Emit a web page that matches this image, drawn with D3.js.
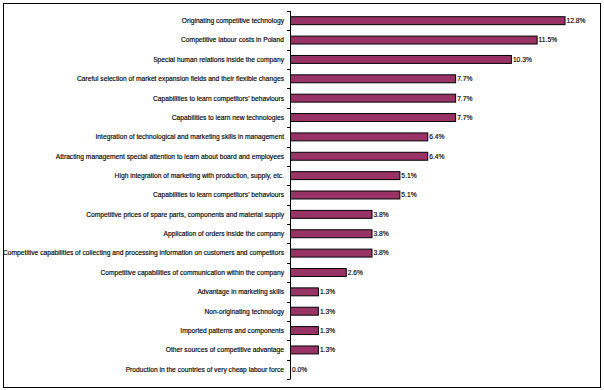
<!DOCTYPE html>
<html><head><meta charset="utf-8">
<script src="https://d3js.org/d3.v7.min.js"></script>
<style>body{margin:0;background:#fff}svg{display:block}</style>
</head><body>
<script>
const categories = [
  "Originating competitive technology",
  "Competitive labour costs in Poland",
  "Special human relations inside the company",
  "Careful selection of market expansion fields and their flexible changes",
  "Capabilities to learn competitors' behaviours",
  "Capabilities to learn new technologies",
  "Integration of technological and marketing skills in management",
  "Attracting management special attention to learn about board and employees",
  "High integration of marketing with production, supply, etc.",
  "Capabilities to learn competitors' behaviours ",
  "Competitive prices of spare parts, components and material supply",
  "Application of orders inside the company",
  "Competitive capabilities of collecting and processing information on customers and competitors",
  "Competitive capabilities of communication within the company",
  "Advantage in marketing skills",
  "Non-originating technology",
  "Imported patterns and components",
  "Other sources of competitive advantage",
  "Production in the countries of very cheap labour force"
];
const values = [12.8, 11.5, 10.3, 7.7, 7.7, 7.7, 6.4, 6.4, 5.1, 5.1, 3.8, 3.8, 3.8, 2.6, 1.3, 1.3, 1.3, 1.3, 0.0];

const W = 604, H = 390;
const svg = d3.select("body").append("svg").attr("width", W).attr("height", H);
svg.append("rect").attr("x", 3.5).attr("y", 3.5).attr("width", 597).attr("height", 384)
  .attr("fill", "#fff").attr("stroke", "#000").attr("stroke-width", 1);

const x0 = 290, y0 = 11, y1 = 379;
const x = d3.scaleLinear().domain([0, 12.8]).range([x0, 564.5]);
const y = d3.scaleBand().domain(d3.range(categories.length)).range([y0, y1]).paddingInner(0.59).paddingOuter(0.295);

const g = svg.append("g");
g.append("line").attr("x1", x0 + 0.5).attr("x2", x0 + 0.5).attr("y1", y0).attr("y2", y1)
  .attr("stroke", "#000").attr("stroke-width", 1);
const step = (y1 - y0) / categories.length;
d3.range(categories.length + 1).forEach(i => {
  const yy = Math.round(y0 + i * step) + 0.5;
  g.append("line").attr("x1", x0 - 3).attr("x2", x0 + 0.5).attr("y1", yy).attr("y2", yy)
    .attr("stroke", "#000").attr("stroke-width", 1);
});

svg.selectAll("rect.bar").data(values).enter().append("rect").attr("class", "bar")
  .attr("x", x0 + 0.5)
  .attr("y", (d, i) => y(i))
  .attr("width", d => x(d) - x0)
  .attr("height", y.bandwidth())
  .attr("fill", "#993366").attr("stroke", "#000").attr("stroke-width", 1)
  .style("display", d => d > 0 ? null : "none");

svg.selectAll("text.cat").data(categories).enter().append("text").attr("class", "cat")
  .attr("x", x0 - 6).attr("y", (d, i) => y(i) + y.bandwidth() / 2)
  .attr("dy", "0.35em").attr("text-anchor", "end")
  .attr("font-family", "Liberation Sans, Arial, sans-serif").attr("font-size", 6.7)
  .attr("fill", "#000").attr("stroke", "#000").attr("stroke-width", 0.15).text(d => d.trim());

svg.selectAll("text.val").data(values).enter().append("text").attr("class", "val")
  .attr("x", d => x(d) + 2).attr("y", (d, i) => y(i) + y.bandwidth() / 2)
  .attr("dy", "0.35em")
  .attr("font-family", "Liberation Sans, Arial, sans-serif").attr("font-size", 6.7)
  .attr("fill", "#000").attr("stroke", "#000").attr("stroke-width", 0.15).text(d => d.toFixed(1) + "%");
</script>
</body></html>
